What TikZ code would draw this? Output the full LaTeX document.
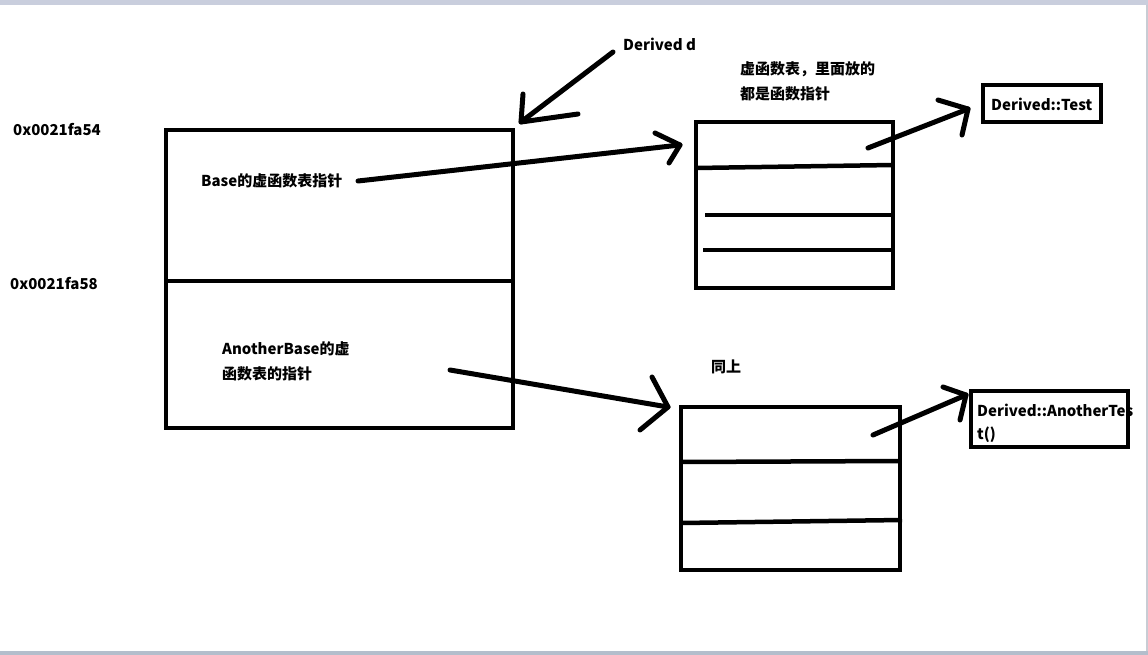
\documentclass[tikz,border=0pt]{standalone}
\usepackage{fontspec}
\setmainfont{Noto Sans CJK SC}
\definecolor{topbar}{HTML}{C9CEDD}
\definecolor{botbar}{HTML}{B4BECC}
\definecolor{edge}{HTML}{C8CCD4}
\begin{document}
\begin{tikzpicture}[x=1pt,y=-1pt,
  box/.style={draw, line width=4.5pt, line join=miter},
  pen/.style={line width=5pt, line cap=round, line join=round},
  lbl/.style={font=\fontsize{15}{17}\selectfont\bfseries, anchor=west, inner sep=0pt},
]
\useasboundingbox (0,0) rectangle (1148,655);
\fill[white] (0,0) rectangle (1148,655);
\fill[topbar] (0,0) rectangle (1148,5);
\fill[botbar] (0,651) rectangle (1148,655);
\fill[edge] (1146,5) rectangle (1148,651);

% main object box
\draw[box] (166,130) rectangle (513,428);
\draw[box] (166,281) -- (513,281);
\coordinate (objtop) at (521,122);

% address labels
\node[lbl] (a1) at (13,130) {0x0021fa54};
\node[lbl] (a2) at (10,284) {0x0021fa58};

% texts in object
\node[lbl] (base) at (201,181) {Base的虚函数表指针};
\node[lbl] (ab1) at (222,349) {AnotherBase的虚};
\node[lbl] (ab2) at (222,374) {函数表的指针};

% Derived d label and arrow
\node[lbl] (dd) at (623,44) {Derived d};
\coordinate (ddtail) at (613,52);
\draw[pen] (ddtail) -- (objtop);
\draw[pen] (523,94) -- (objtop) -- (578,114);

% vtable 1
\draw[box] (696,122) rectangle (893,288);
\draw[box] (696,168) -- (893,165);
\draw[box] (705,215) -- (893,215);
\draw[box] (703,250) -- (893,250);
\node[lbl] (vt1a) at (740,69) {虚函数表，里面放的};
\node[lbl] (vt1b) at (740,94) {都是函数指针};

% arrow base -> vtable1
\coordinate (p1) at (358,181);
\coordinate (t1) at (680,145);
\draw[pen] (p1) -- (t1);
\draw[pen] (655,133) -- (t1) -- (669,163);

% Derived::Test box
\draw[box] (983,85) rectangle (1101,122);
\node[lbl] (dt) at (991,104) {Derived::Test};
\coordinate (e1) at (868,148);
\coordinate (t3) at (968,109);
\draw[pen] (e1) -- (t3);
\draw[pen] (938,100) -- (t3) -- (962,135);

% vtable 2
\node[lbl] (same) at (711,367) {同上};
\draw[box] (681,407) rectangle (900,570);
\draw[box] (681,462) -- (899,461);
\draw[box] (681,523) -- (902,520);

% arrow anotherbase -> vtable2
\coordinate (p2) at (450,370);
\coordinate (t2) at (668,407);
\draw[pen] (p2) -- (t2);
\draw[pen] (652,377) -- (t2) -- (640,430);

% Derived::AnotherTest box
\node[lbl] (dat1) at (977,410) {Derived::AnotherTes};
\node[lbl] (dat2) at (977,435) {t()};
\draw[box] (971,391) rectangle (1128,447);
\coordinate (e2) at (873,435);
\coordinate (t4) at (966,395);
\draw[pen] (e2) -- (t4);
\draw[pen] (943,387) -- (t4) -- (960,420);
\end{tikzpicture}
\end{document}
